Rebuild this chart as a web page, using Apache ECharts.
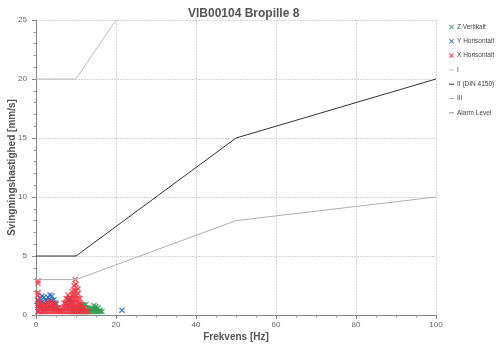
<!DOCTYPE html>
<html><head><meta charset="utf-8">
<script src="https://cdn.jsdelivr.net/npm/echarts@6/dist/echarts.min.js"></script>
<style>html,body{margin:0;padding:0;background:#fff}#c{width:500px;height:345px}</style>
</head><body><div id="c"></div>
<script>
const titleText = 'VIB00104 Bropille 8';
const xName = 'Frekvens [Hz]';
const yName = 'Svingningshastighed [mm/s]';
const legendNames = ['Z Vertikalt','Y Horisontalt','X Horisontalt','I','II (DIN 4150)','III','Alarm Level'];

const zVertikalt = [
 [9,0.3],[9,0.5],[9.5,0.3],[9.5,0.5],[10,0.3],[10,0.6],[10.5,0.3],[10.5,0.6],
 [11,0.3],[11,0.6],[11,0.8],[11.5,0.3],[11.5,0.6],[11.5,0.8],[12,0.3],[12,0.6],[12,0.9],
 [12.5,0.3],[12.5,0.6],[12.5,0.9],[13,0.3],[13,0.6],[13.5,0.3],[13.5,0.6],[14,0.3],[14,0.5],
 [14.5,0.3],[14.5,0.5],[14.5,0.8],[15,0.3],[15,0.5],[15,0.7],[15.5,0.3],[15.5,0.6],[16,0.3],[16,0.4],[16.5,0.3]
];
const yHorisontalt = [
 [0.5,0.3],[0.5,0.8],[0.5,1.2],[1,0.5],[1,0.9],[1,1.4],[1.5,0.6],[1.5,1.1],[1.5,1.6],
 [2,0.5],[2,1.0],[2,1.5],[2.5,0.5],[2.5,1.2],[3,0.6],[3,1.1],[3,1.5],[3.5,0.7],[3.5,1.2],[3.5,1.7],
 [4,0.6],[4,1.2],[4,1.6],[4.5,0.5],[4.5,1.0],[4.5,1.3],[5,0.5],[5,1.0],[5.5,0.4],[5.5,0.6],
 [7.5,0.5],[7.5,1.0],[8,0.6],[8,1.3],[8.5,0.8],[8.5,1.4],[9,0.6],[9,1.1],[21.5,0.4]
];
const xHorisontalt = [
 [0.5,0.3],[0.5,0.65],[0.5,1.0],[0.5,1.3],[0.5,1.7],[0.5,1.9],[0.5,2.7],[0.5,2.9],
 [1,0.3],[1,0.65],[1,1.0],[1.5,0.3],[1.5,0.6],[1.5,0.9],[2,0.3],[2,0.55],[2,0.8],
 [2.5,0.3],[2.5,0.6],[2.5,0.9],[3,0.3],[3,0.65],[3,1.0],[3.5,0.3],[3.5,0.7],[3.5,1.1],
 [4,0.3],[4,0.65],[4,1.0],[4.5,0.3],[4.5,0.65],[4.5,1.0],[5,0.3],[5,0.6],[5,0.9],
 [5.5,0.3],[5.5,0.6],[6,0.3],[6,0.4],[6.5,0.3],[6.5,0.6],[7,0.3],[7,0.65],[7,1.0],
 [7.5,0.3],[7.5,0.65],[7.5,1.0],[7.5,1.4],[8,0.3],[8,0.65],[8,1.0],[8,1.35],[8,1.7],
 [8.5,0.3],[8.5,0.65],[8.5,1.0],[8.5,1.5],[9,0.3],[9,0.65],[9,1.0],[9,1.35],[9,1.7],[9,2.0],
 [9.5,0.3],[9.5,0.65],[9.5,1.0],[9.5,1.35],[9.5,1.7],[9.5,2.1],[9.5,2.5],
 [10,0.3],[10,0.65],[10,1.0],[10,1.35],[10,1.7],[10,2.1],[10,2.6],[9.8,3.0],
 [10.5,0.3],[10.5,0.65],[10.5,1.0],[10.5,1.4],[10.5,1.8],[10.5,2.2],
 [11,0.3],[11,0.65],[11,1.0],[11,1.4],[11.5,0.3],[11.5,0.6],[11.5,0.9],[12,0.3],[12,0.6],[12.5,0.3],[12.5,0.4],[13,0.3]
];
const lineI = [[0,20],[10,20],[50,40],[100,50]];
const lineII = [[0,5],[10,5],[50,15],[100,20]];
const lineIII = [[0,3],[10,3],[50,8],[100,10]];
const alarmLevel = [];

const xSym = 'path://M0,1.6L1.6,0L5,3.4L8.4,0L10,1.6L6.6,5L10,8.4L8.4,10L5,6.6L1.6,10L0,8.4L3.4,5Z';
const dash = 'path://M0,4L10,4L10,6L0,6Z';
const font = 'Liberation Sans';

const chart = echarts.init(document.getElementById('c'));
const sc = (name, data, color) => ({type:'scatter', name, data, symbol:xSym, symbolSize:6,
  itemStyle:{color}, animation:false});
const ln = (name, data, color) => ({type:'line', name, data, showSymbol:false, symbol:'none',
  lineStyle:{color, width:1}, itemStyle:{color}, animation:false});
chart.setOption({
  animation:false,
  title:{text:titleText, left:183, top:3, textStyle:{fontFamily:font, fontSize:12, fontWeight:'bold', color:'#555'}},
  legend:{orient:'vertical', left:444, top:18, itemWidth:5, itemHeight:5, itemGap:6.3,
    textStyle:{fontFamily:font, fontSize:6.5, color:'#444', lineHeight:8, padding:[0,0,0,-2]},
    data:[
      {name:legendNames[0], icon:xSym},{name:legendNames[1], icon:xSym},{name:legendNames[2], icon:xSym},
      {name:legendNames[3], icon:dash},{name:legendNames[4], icon:dash},{name:legendNames[5], icon:dash},{name:legendNames[6], icon:dash}
    ]},
  grid:{left:36, right:64, top:20, bottom:30, containLabel:false, outerBoundsMode:'none'},
  xAxis:{type:'value', min:0, max:100, interval:20, name:xName, nameLocation:'middle', nameGap:17,
    nameMoveOverlap:false,
    nameTextStyle:{fontFamily:font, fontSize:10, fontWeight:'bold', color:'#555'},
    axisLine:{show:true, onZero:false, lineStyle:{color:'#888'}},
    axisTick:{show:true, length:4, lineStyle:{color:'#888'}},
    minorTick:{show:true, splitNumber:4, length:2.5, lineStyle:{color:'#999'}},
    axisLabel:{fontFamily:font, fontSize:8, color:'#666', margin:6},
    splitLine:{show:true, lineStyle:{color:'#d4d4d4', type:[2,1]}}},
  yAxis:{type:'value', min:0, max:25, interval:5, name:yName, nameLocation:'middle', nameGap:19,
    nameMoveOverlap:false,
    nameTextStyle:{fontFamily:font, fontSize:10, fontWeight:'bold', color:'#555'},
    axisLine:{show:true, lineStyle:{color:'#888'}},
    axisTick:{show:true, length:4, lineStyle:{color:'#888'}},
    minorTick:{show:true, splitNumber:5, length:2.5, lineStyle:{color:'#999'}},
    axisLabel:{fontFamily:font, fontSize:8, color:'#666', margin:9},
    splitLine:{show:true, lineStyle:{color:'#d4d4d4', type:[2,1]}}},
  series:[
    ln(legendNames[3], lineI, '#bdbdbd'),
    ln(legendNames[4], lineII, '#333333'),
    ln(legendNames[5], lineIII, '#b0b0b0'),
    ln(legendNames[6], alarmLevel, '#999999'),
    sc(legendNames[0], zVertikalt, '#2e9a4e'),
    sc(legendNames[1], yHorisontalt, '#2a5fae'),
    sc(legendNames[2], xHorisontalt, '#f4323e')
  ]
});
</script></body></html>
